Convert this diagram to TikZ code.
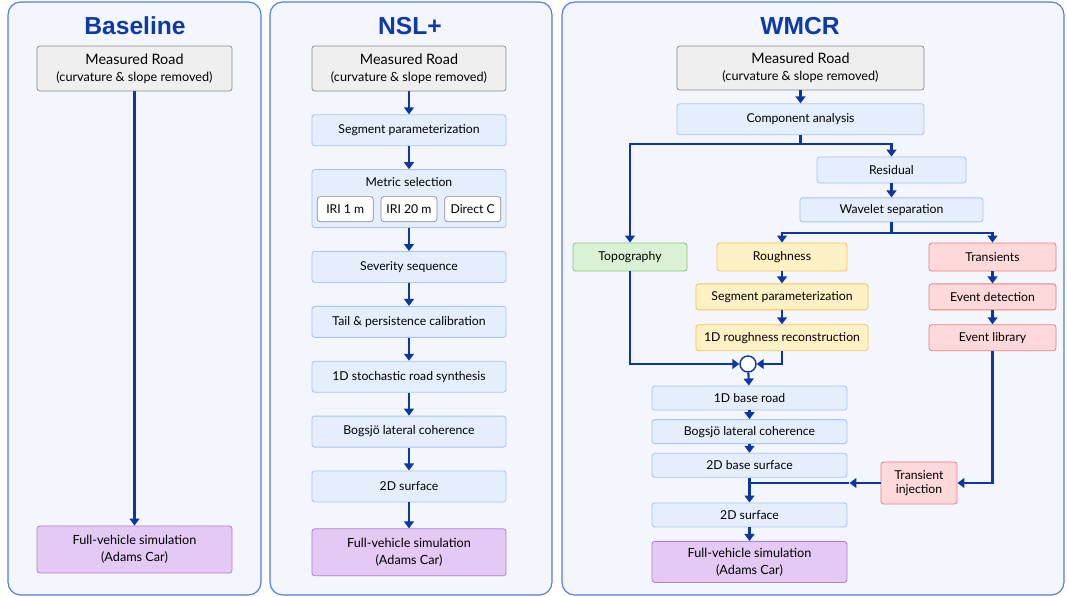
\documentclass[tikz,border=0pt]{standalone}
\usepackage{fontspec}
\setmainfont{Lato}
\newfontfamily\headfont{Liberation Sans}
\usetikzlibrary{arrows.meta,positioning,calc}
\definecolor{panelbg}{HTML}{F3F6FC}
\definecolor{panelline}{HTML}{4F7BEA}
\definecolor{headblue}{HTML}{0D3AA9}
\definecolor{flowblue}{HTML}{0B37A4}
\definecolor{roadfill}{HTML}{EFEFEF}
\definecolor{roadline}{HTML}{8A8A8A}
\definecolor{stepfill}{HTML}{E4EEFC}
\definecolor{stepline}{HTML}{A9C5F6}
\definecolor{simfill}{HTML}{E3C9F4}
\definecolor{simline}{HTML}{B380DA}
\definecolor{topofill}{HTML}{DAF1D5}
\definecolor{topoline}{HTML}{86C97A}
\definecolor{roughfill}{HTML}{FFF1C6}
\definecolor{roughline}{HTML}{F2C650}
\definecolor{transfill}{HTML}{FDD9D9}
\definecolor{transline}{HTML}{EE8080}
\tikzset{
  panel/.style={rounded corners=9pt, draw=panelline, line width=0.8pt, fill=panelbg},
  head/.style={font=\headfont\bfseries\fontsize{17.5}{20}\selectfont, text=headblue},
  road/.style={rectangle, rounded corners=2pt, minimum width=4.875cm, minimum height=1.125cm, align=center, draw=roadline, line width=0.5pt, fill=roadfill, inner sep=1pt},
  stepbox/.style={rectangle, rounded corners=2pt, minimum width=4.85cm, minimum height=0.775cm, align=center, draw=stepline, line width=0.6pt, fill=stepfill, font=\fontsize{8.7}{10}\selectfont, inner sep=1pt},
  sim/.style={stepbox, draw=simline, fill=simfill, minimum height=1.175cm, font=\fontsize{9}{12}\selectfont},
  topo/.style={stepbox, draw=topoline, fill=topofill, minimum width=2.85cm, minimum height=0.7cm},
  rough/.style={stepbox, draw=roughline, fill=roughfill, minimum width=3.25cm, minimum height=0.7cm},
  trans/.style={stepbox, draw=transline, fill=transfill, minimum width=3.175cm, minimum height=0.7cm},
  pick/.style={rectangle, rounded corners=2pt, minimum width=1.4cm, minimum height=0.625cm, draw=roadline, line width=0.5pt, fill=white, font=\fontsize{8.7}{10}\selectfont, inner sep=1pt},
  sumnode/.style={circle, draw=flowblue, line width=1pt, fill=white, minimum size=0.4cm, inner sep=0pt},
  link/.style={draw=flowblue, line width=1.5pt},
  flow/.style={link, -{Triangle[length=5pt,width=7pt]}},
}
\newcommand{\roadtext}{{\fontsize{10.2}{12}\selectfont Measured Road}\\{\fontsize{9}{12}\selectfont (curvature \& slope removed)}}

\begin{document}
\begin{tikzpicture}[x=0.025cm, y=-0.025cm, node distance=0.575cm]
  \useasboundingbox (0,0) rectangle (1067,597);
  % panels
  \draw[panel] (8,2) rectangle (261,595);
  \draw[panel] (270,2) rectangle (552,595);
  \draw[panel] (562,2) rectangle (1064,595);
  \node[head] (tbase) at (135,26) {Baseline};
  \node[head] (tnsl) at (410,26) {NSL+};
  \node[head] (twmcr) at (800,26) {WMCR};

  % Baseline
  \node[road] (bmeas) at (134.5,68.5) {\roadtext};
  \node[sim, minimum width=4.875cm] (bsim) at (134.5,549.5) {Full-vehicle simulation\\(Adams Car)};
  \draw[flow] (bmeas)--(bsim);

  % NSL+
  \node[road, minimum width=4.85cm] (nmeas) at (409,68.5) {\roadtext};
  \node[stepbox, below=of nmeas] (nseg) {Segment parameterization};
  \node[stepbox, minimum height=1.45cm, below=of nseg] (nmetric) {};
  \node[stepbox, draw=none, fill=none, minimum height=0pt] (nmtitle) at ($(nmetric.north)+(0,13)$) {Metric selection};
  \node[pick] (iri20) at ($(nmetric.center)+(0,10.5)$) {IRI 20 m};
  \node[pick, left=0.175cm of iri20] (iri1) {IRI 1 m};
  \node[pick, right=0.175cm of iri20] (directc) {Direct C};
  \node[stepbox, below=of nmetric] (nsev) {Severity sequence};
  \node[stepbox, below=of nsev] (ntail) {Tail \& persistence calibration};
  \node[stepbox, below=of ntail] (nsyn) {1D stochastic road synthesis};
  \node[stepbox, below=of nsyn] (nbog) {Bogsjö lateral coherence};
  \node[stepbox, below=of nbog] (nsurf) {2D surface};
  \node[sim, below=0.65cm of nsurf] (nsim) {Full-vehicle simulation\\(Adams Car)};
  \draw[flow] (nmeas)--(nseg);
  \draw[flow] (nseg)--(nmetric);
  \draw[flow] (nmetric)--(nsev);
  \draw[flow] (nsev)--(ntail);
  \draw[flow] (ntail)--(nsyn);
  \draw[flow] (nsyn)--(nbog);
  \draw[flow] (nbog)--(nsurf);
  \draw[flow] (nsurf)--(nsim);

  % WMCR
  \node[road, minimum width=6.175cm, minimum height=1.1cm] (wmeas) at (800.5,68) {\roadtext};
  \node[stepbox, minimum width=6.175cm, below=0.325cm of wmeas] (wcomp) {Component analysis};
  \node[stepbox, minimum width=3.725cm, minimum height=0.65cm] (wres) at (891.5,170) {Residual};
  \node[stepbox, minimum width=4.575cm, minimum height=0.6cm, below=0.35cm of wres] (wwave) {Wavelet separation};
  \node[topo] (wtopo) at (630,257) {Topography};
  \node[rough] (wrough) at (782,257) {Roughness};
  \node[rough, minimum width=4.3cm, minimum height=0.65cm, below=0.3cm of wrough] (wrseg) {Segment parameterization};
  \node[rough, minimum width=4.3cm, minimum height=0.65cm, below=0.35cm of wrseg] (wrrec) {1D roughness reconstruction};
  \node[trans] (wtr) at (992.5,257) {Transients};
  \node[trans, minimum height=0.65cm, below=0.3cm of wtr] (wevd) {Event detection};
  \node[trans, minimum height=0.65cm, below=0.35cm of wevd] (wevl) {Event library};
  \node[sumnode] (wsum) at (748,364) {};
  \node[stepbox, minimum width=4.875cm, minimum height=0.6cm] (wbase) at (749.5,398) {1D base road};
  \node[stepbox, minimum width=4.875cm, minimum height=0.6cm, below=0.22cm of wbase] (wbog) {Bogsjö lateral coherence};
  \node[stepbox, minimum width=4.875cm, minimum height=0.6cm, below=0.22cm of wbog] (wb2d) {2D base surface};
  \node[stepbox, minimum width=4.875cm, minimum height=0.6cm, below=0.62cm of wb2d] (ws2d) {2D surface};
  \node[sim, minimum width=4.875cm, minimum height=1.025cm, below=0.34cm of ws2d] (wsim) {Full-vehicle simulation\\(Adams Car)};
  \node[trans, minimum width=1.9cm, minimum height=1.05cm] (wtinj) at (919,483) {Transient\\injection};
  \draw[flow] (wmeas)--(wcomp);
  \draw[flow] (wcomp.south) -- ++(0,9) -| (wtopo.north);
  \draw[flow] (wcomp.south) -- ++(0,9) -| (wres.north);
  \draw[flow] (wres)--(wwave);
  \draw[flow] (wwave.south) -- ++(0,11) -| (wrough.north);
  \draw[flow] (wwave.south) -- ++(0,11) -| (wtr.north);
  \draw[flow] (wrough)--(wrseg);
  \draw[flow] (wrseg)--(wrrec);
  \draw[flow] (wtr)--(wevd);
  \draw[flow] (wevd)--(wevl);
  \draw[flow] (wtopo.south) |- (wsum.west);
  \draw[flow] (wrrec.south) |- (wsum.east);
  \draw[flow] (wsum)--(wbase);
  \draw[flow] (wbase)--(wbog);
  \draw[flow] (wbog)--(wb2d);
  \draw[flow] (wevl.south) |- (wtinj.east);
  \coordinate (wtmid) at ([xshift=0.05cm]wb2d.east |- wtinj.west);
  \coordinate (wtjoin) at (wb2d.south |- wtinj.west);
  \draw[flow] (wtinj.west) -- (wtmid);
  \draw[link] (wtmid) -- (wtjoin);
  \draw[flow] (wb2d)--(ws2d);
  \draw[flow] (ws2d)--(wsim);
\end{tikzpicture}
\end{document}
